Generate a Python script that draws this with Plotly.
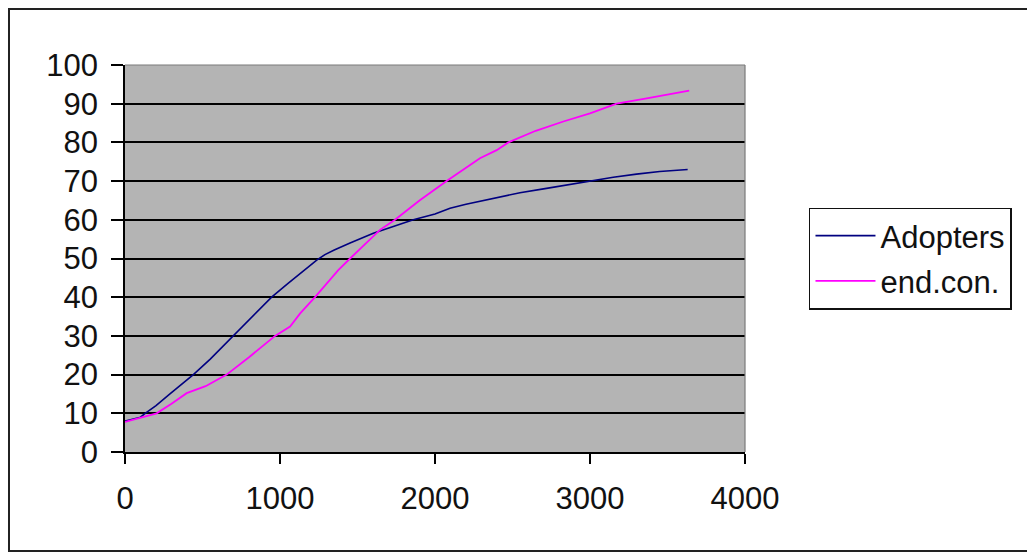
import plotly.graph_objects as go

# Data
adopters_x = [0, 100, 130, 200, 290, 350, 441, 550, 699, 800, 946, 1050, 1129, 1237,
              1290, 1350, 1452, 1602, 1750, 1860, 2000, 2097, 2200, 2312, 2419, 2548,
              2700, 2850, 2990, 3150, 3300, 3450, 3630]
adopters_y = [8, 9, 10, 12, 15, 17, 20, 24, 30, 34, 40, 43.5, 46, 49.6,
              51, 52.2, 54, 56.5, 58.5, 60, 61.5, 63, 64, 65, 66, 67,
              68, 69, 70, 71, 71.8, 72.5, 73]

endcon_x = [0, 100, 204, 300, 398, 520, 656, 800, 968, 1065, 1130, 1226, 1376, 1452,
            1645, 1742, 1900, 2075, 2200, 2290, 2398, 2473, 2650, 2828, 3000, 3172,
            3366, 3640]
endcon_y = [7.8, 8.8, 10, 12.5, 15.2, 17, 20, 24.5, 30, 32.4, 35.8, 40, 47, 50,
            57.4, 60, 65, 70, 73.5, 75.9, 78, 80, 83, 85.4, 87.5, 90,
            91.4, 93.4]

x_ticks = [0, 1000, 2000, 3000, 4000]
y_ticks = [0, 10, 20, 30, 40, 50, 60, 70, 80, 90, 100]

FONT = "Liberation Sans, Arial, sans-serif"

fig = go.Figure()
fig.add_trace(go.Scatter(x=adopters_x, y=adopters_y, mode="lines", name="Adopters",
                         line=dict(color="#000080", width=1.6), legendgroup="a"))
fig.add_trace(go.Scatter(x=endcon_x, y=endcon_y, mode="lines", name="end.con.",
                         line=dict(color="#FF00FF", width=1.8), legendgroup="b"))

fig.update_layout(
    width=1027, height=554,
    margin=dict(l=125, r=282, t=65, b=102),
    paper_bgcolor="white",
    plot_bgcolor="#B4B4B4",
    font=dict(family=FONT, size=31, color="#111111"),
    showlegend=True,
    legend=dict(x=1.1032, xanchor="left", y=0.5, yanchor="middle",
                bgcolor="white", bordercolor="#111111", borderwidth=1.5,
                font=dict(size=31), traceorder="grouped", tracegroupgap=2,
                itemwidth=60),
    xaxis=dict(range=[0, 4000], tickvals=x_ticks, showgrid=False, zeroline=False,
               showline=True, linecolor="black", linewidth=1.5,
               ticks="outside", ticklen=10, tickwidth=1.5, tickcolor="black",
               ticklabelstandoff=8),
    yaxis=dict(range=[0, 100], tickvals=y_ticks, showgrid=True, gridcolor="black",
               gridwidth=1.5, zeroline=False,
               showline=True, linecolor="black", linewidth=1.5,
               ticks="outside", ticklen=12, tickwidth=1.5, tickcolor="black",
               ticklabelstandoff=7),
)

# plot area border (top and right) in gray
fig.add_shape(type="line", xref="paper", yref="paper", x0=0, x1=1, y0=1, y1=1,
              line=dict(color="#7a7a7a", width=1.2))
fig.add_shape(type="line", xref="paper", yref="paper", x0=1, x1=1, y0=0, y1=1,
              line=dict(color="#7a7a7a", width=1.2))
# outer chart border
fig.add_shape(type="rect", xref="paper", yref="paper",
              x0=-0.1871, x1=1.46, y0=-0.2558, y1=1.1447,
              line=dict(color="#222222", width=2), layer="below")

fig.write_html("out.html")
